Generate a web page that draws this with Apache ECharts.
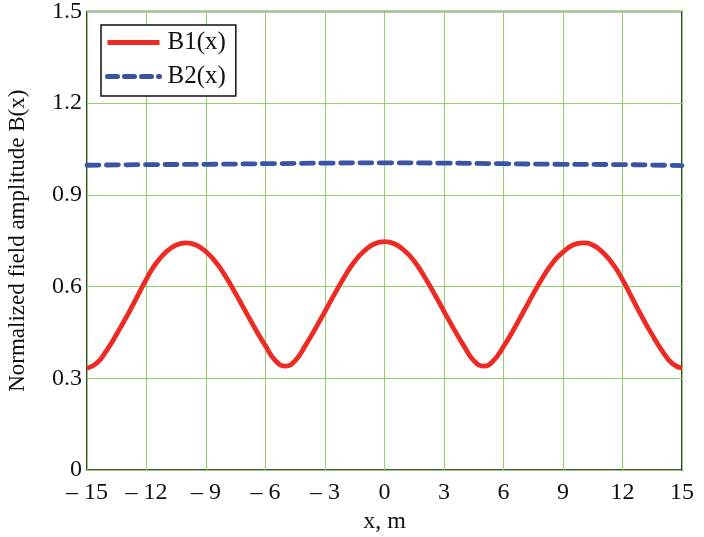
<!DOCTYPE html>
<html>
<head>
<meta charset="utf-8">
<script src="https://cdn.jsdelivr.net/npm/echarts@6/dist/echarts.min.js"></script>
<style>html,body{margin:0;padding:0;background:#fff;}#c{width:704px;height:537px;}</style>
</head>
<body>
<div id="c"></div>
<script>
const xB1 = [-15,-14.5,-14,-13.5,-13,-12.5,-12,-11.5,-11,-10.5,-10,-9.5,-9,-8.5,-8,-7.5,-7,-6.5,-6,-5.5,-5,-4.5,-4,-3.5,-3,-2.5,-2,-1.5,-1,-0.5,0,0.5,1,1.5,2,2.5,3,3.5,4,4.5,5,5.5,6,6.5,7,7.5,8,8.5,9,9.5,10,10.5,11,11.5,12,12.5,13,13.5,14,14.5,15];
const yB1 = [0.333,0.350,0.392,0.445,0.502,0.563,0.625,0.678,0.714,0.736,0.743,0.736,0.714,0.680,0.632,0.576,0.518,0.460,0.406,0.358,0.340,0.358,0.406,0.461,0.519,0.578,0.634,0.683,0.718,0.740,0.747,0.740,0.718,0.683,0.634,0.578,0.519,0.461,0.406,0.358,0.340,0.358,0.404,0.458,0.517,0.576,0.632,0.680,0.713,0.736,0.743,0.736,0.712,0.675,0.623,0.561,0.499,0.442,0.390,0.349,0.333];
const xB2 = [-15,-12,-9,-6,-3,0,3,6,9,12,15];
const yB2 = [0.997,0.999,1.000,1.002,1.004,1.005,1.004,1.002,1.000,0.999,0.996];
const xTickLabels = {"-15":"– 15","-12":"– 12","-9":"– 9","-6":"– 6","-3":"– 3","0":"0","3":"3","6":"6","9":"9","12":"12","15":"15"};
const yTickLabels = {"0":"0","0.3":"0.3","0.6":"0.6","0.9":"0.9","1.2":"1.2","1.5":"1.5"};

const serif = "Liberation Serif";
const chart = echarts.init(document.getElementById('c'));
chart.setOption({
  animation: false,
  backgroundColor: '#fff',
  grid: {left: 87, right: 22, top: 11.5, bottom: 67, containLabel: false, outerBoundsMode: 'none',
    show: true, borderColor: '#111', borderWidth: 1.6, backgroundColor: 'transparent'},
  legend: {
    left: 101, top: 25, orient: 'vertical',
    backgroundColor: '#fff',
    borderColor: '#111', borderWidth: 1.5, borderRadius: 0,
    padding: [5, 10, 7, 4], itemGap: 9,
    itemWidth: 52, itemHeight: 14,
    itemStyle: {opacity: 0},
    textStyle: {fontFamily: serif, fontSize: 25, color: '#111', padding: [0, 0, 0, 3]},
    data: [
      {name: 'B1(x)', lineStyle: {width: 5, color: '#ee2a24'}},
      {name: 'B2(x)', lineStyle: {width: 5, color: '#3a53a4', type: [10, 7], cap: 'round'}}
    ]
  },
  xAxis: {
    type: 'value', min: -15, max: 15, interval: 3,
    name: 'x, m', nameLocation: 'middle', nameGap: 40,
    nameTextStyle: {fontFamily: serif, fontSize: 24, color: '#111'},
    axisLine: {show: false}, axisTick: {show: false},
    axisLabel: {fontFamily: serif, fontSize: 24, color: '#111', margin: 11,
      formatter: v => xTickLabels[String(Math.round(v))] ?? String(v)},
    splitLine: {show: true, lineStyle: {color: '#8fd16a', width: 1}}
  },
  yAxis: {
    type: 'value', min: 0, max: 1.5, interval: 0.3,
    name: 'Normalized field amplitude B(x)', nameLocation: 'middle', nameGap: 58, nameRotate: 90,
    nameTextStyle: {fontFamily: serif, fontSize: 23, color: '#111'},
    axisLine: {show: false}, axisTick: {show: false},
    axisLabel: {fontFamily: serif, fontSize: 24, color: '#111', margin: 5,
      formatter: v => yTickLabels[String(Math.round(v*10)/10)] ?? String(v)},
    splitLine: {show: true, lineStyle: {color: '#8fd16a', width: 1}}
  },
  series: [
    {name: 'B1(x)', type: 'line', smooth: 0.5, symbol: 'none',
     data: xB1.map((x, i) => [x, yB1[i]]),
     lineStyle: {color: '#ee2a24', width: 4.8}, itemStyle: {color: '#ee2a24'}, z: 3},
    {name: 'B2(x)', type: 'line', smooth: true, symbol: 'none',
     data: xB2.map((x, i) => [x, yB2[i]]),
     lineStyle: {color: '#3a53a4', width: 4.8, type: [12, 7.5], cap: 'round'}, itemStyle: {color: '#3a53a4'}, z: 3}
  ]
});
</script>
</body>
</html>
